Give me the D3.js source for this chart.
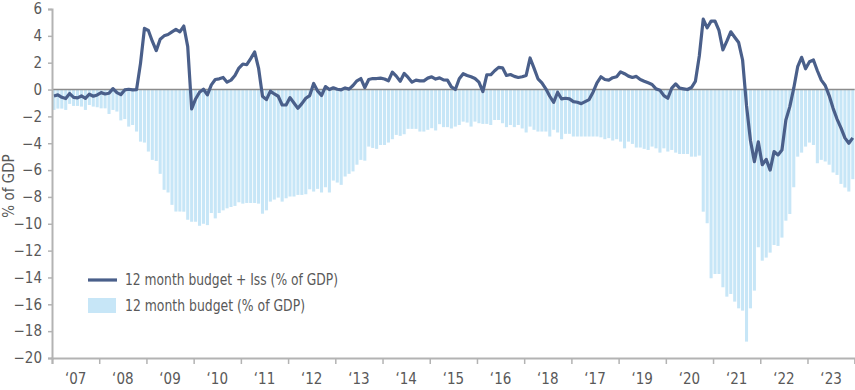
<!DOCTYPE html>
<html>
<head>
<meta charset="utf-8">
<script src="https://cdn.jsdelivr.net/npm/d3@7"></script>
<style>
  body { margin: 0; background: #fff; }
  text { font-family: 'Liberation Sans Narrow', 'DejaVu Sans Condensed', 'Roboto', sans-serif; fill: #595959; }
</style>
</head>
<body>
<div id="chart"></div>
<script>
const COLOR_BAR = '#c7e6f7';
const COLOR_LINE = '#4a5f8a';
const COLOR_AXIS = '#b3b3b3';

const yearLabels = ['‘07', '‘08', '‘09', '‘10', '‘11', '‘12', '‘13', '‘14', '‘15', '‘16', '‘18', '‘17', '‘19', '‘20', '‘21', '‘22', '‘23'];

const yTicks = [-20, -18, -16, -14, -12, -10, -8, -6, -4, -2, 0, 2, 4, 6];

// 12 month budget (% of GDP), monthly
const budget = [
	-1.52, -1.42, -1.42, -1.52, -1.07, -1.22, -1.22, -1.27, -1.52, -1.15, -1.27, -1.32,
	-1.4, -1.4, -1.82, -1.52, -1.64, -2.3, -2.2, -2.76, -2.64, -3.13, -3.88, -3.95,
	-4.62, -5.24, -5.32, -6.28, -7.47, -7.67, -8.59, -9.09, -9.09,
	-9.1, -9.7, -9.85, -9.85, -10.15, -10.0, -10.1, -9.2, -9.6, -9.2, -9.0, -8.85,
	-8.75, -8.67, -8.4, -8.5, -8.45, -8.45, -8.45, -8.5, -9.25, -9.0, -8.35, -8.2,
	-8.05, -8.35, -8.1, -7.97, -7.97, -7.85, -7.85, -7.8, -7.43, -7.6, -7.4,
	-7.67, -7.28, -7.67, -6.78, -6.93, -7.1, -6.48, -6.28, -6.1, -5.6, -5.24, -5.3,
	-4.25, -4.35, -4.42, -4.13, -4.13, -3.95, -3.7, -3.38, -3.45, -3.33, -2.93, -2.93,
	-2.93, -3.13, -3.13, -3.0, -2.88, -3.05, -2.58, -2.8, -2.8,
	-2.9, -2.76, -2.64, -2.39, -2.46, -2.76, -2.39, -2.51, -2.56, -2.56, -2.64, -2.27,
	-2.27, -2.51, -2.8, -2.64, -2.8, -2.64, -2.9, -3.2, -2.76, -3.0, -3.13, -3.13,
	-3.13, -3.5, -3.0, -3.2, -3.7, -3.3, -3.3, -3.5, -3.5, -3.5, -3.5,
	-3.5, -3.5, -3.5, -3.56, -3.7, -3.62, -3.8, -3.7, -3.88, -4.38, -3.88, -4.05,
	-4.32, -4.32, -4.42, -4.5, -4.25, -4.38, -4.7, -4.38, -4.62, -4.5, -4.7, -4.8,
	-4.8, -4.8, -5.0, -5.0, -4.92,
	-9.1, -9.96, -14.06, -13.74, -13.74, -14.73, -15.43, -15.23, -15.8, -16.3, -16.47, -18.78,
	-16.3, -14.98, -11.75, -12.75, -12.52, -12.15, -11.58, -11.65, -11.03, -9.77, -9.27,
	-7.28, -5.0, -4.7, -4.25, -3.95, -4.13, -5.49, -5.24, -5.36, -5.6, -6.18, -6.36,
	-7.03, -7.3, -7.6, -6.68
];

// 12 month budget + Iss (% of GDP), monthly
const budgetIss = [
	-0.48, -0.4, -0.58, -0.67, -0.3, -0.58, -0.62, -0.48, -0.65, -0.35, -0.5, -0.4,
	-0.23, -0.33, -0.28, 0.07, -0.23, -0.38, -0.03, 0.02, -0.03, 0.0, 1.95, 4.55,
	4.4, 3.6, 2.9, 3.75, 4.0, 4.1, 4.3, 4.48, 4.3, 4.73,
	3.2, -1.45, -0.7, -0.2, 0.02, -0.4, 0.35, 0.75, 0.8, 0.9, 0.55, 0.7,
	1.05, 1.6, 1.9, 1.85, 2.3, 2.8, 1.6, -0.5, -0.75, -0.12, -0.33, -0.5,
	-1.15, -1.15, -0.6, -1.0, -1.4, -1.05, -0.65, -0.45, 0.45, -0.1,
	-0.45, 0.22, 0.0, 0.13, 0.02, -0.02, 0.12, 0.03, 0.3, 0.65, 0.82, 0.15,
	0.75, 0.82, 0.82, 0.85, 0.78, 0.65, 1.3, 1.0, 0.62, 1.2, 0.9, 0.55,
	0.7, 0.65, 0.65, 0.85, 0.95, 0.78, 0.87, 0.72, 0.7, 0.2,
	0.0, 0.8, 1.18, 1.05, 0.95, 0.82, 0.55, -0.15, 1.1, 1.1, 1.4, 1.65,
	1.62, 1.05, 1.12, 0.98, 0.9, 0.95, 1.05, 2.35, 1.6, 0.8, 0.5, 0.05,
	-0.5, -0.95, -0.2, -0.7, -0.65, -0.7, -0.9, -0.95, -1.05, -0.9,
	-0.75, -0.2, 0.5, 0.95, 0.75, 0.7, 0.88, 0.95, 1.32, 1.18, 1.0, 0.9,
	0.98, 0.75, 0.62, 0.5, 0.38, 0.05, -0.05, -0.45, -0.65, 0.1, 0.42, 0.1,
	0.05, 0.0, 0.15, 0.6, 2.5, 5.25, 4.6, 5.1, 5.1, 4.4, 2.95, 3.6,
	4.3, 3.9, 3.5, 2.2, -1.2, -3.8, -5.37, -3.9, -5.6, -5.2, -6.0, -4.62,
	-4.87, -4.5, -2.27, -1.27, 0.1, 1.7, 2.4, 1.55, 2.07, 2.2, 1.4, 0.7,
	0.3, -0.45, -1.4, -2.2, -2.85, -3.6, -4.0, -3.6
];

const months = d3.timeMonths(new Date(2007, 0, 1), new Date(2024, 0, 1));

const W = 855;
const H = 390;
const m = { top: 9, right: 0.3, bottom: 32, left: 52 };

const svg = d3.select('#chart')
	.append('svg')
	.attr('width', W)
	.attr('height', H);

const x = d3.scaleBand()
	.domain(months)
	.range([m.left, W - m.right])
	.paddingInner(0.22)
	.paddingOuter(0.1);

const xYear = d3.scaleBand()
	.domain(yearLabels.map((d, i) => i))
	.range([m.left, W - m.right]);

const xEdge = d3.scaleLinear()
	.domain([0, yearLabels.length])
	.range([m.left, W - m.right]);

const y = d3.scaleLinear()
	.domain([-20, 6])
	.range([H - m.bottom, m.top]);

// bars
svg.append('g')
	.selectAll('rect')
	.data(budget)
	.join('rect')
	.attr('x', (d, i) => x(months[i]))
	.attr('y', y(0))
	.attr('width', x.bandwidth())
	.attr('height', (d) => y(d) - y(0))
	.attr('fill', COLOR_BAR);

// zero line
svg.append('line')
	.attr('x1', m.left)
	.attr('x2', W - m.right)
	.attr('y1', y(0))
	.attr('y2', y(0))
	.attr('stroke', '#8c8c8c')
	.attr('stroke-width', 1.5);

// line series
const line = d3.line()
	.x((d, i) => x(months[i]) + x.bandwidth() / 2)
	.y((d) => y(d));

svg.append('path')
	.datum(budgetIss)
	.attr('d', line)
	.attr('fill', 'none')
	.attr('stroke', COLOR_LINE)
	.attr('stroke-width', 3.2)
	.attr('stroke-linejoin', 'round');

// y axis
const yAxis = svg.append('g')
	.attr('transform', 'translate(' + m.left + ',0)')
	.call(d3.axisLeft(y).tickValues(yTicks).tickSize(4).tickPadding(6));
yAxis.select('.domain').attr('stroke', COLOR_AXIS).attr('stroke-width', 2);
yAxis.selectAll('.tick line').attr('stroke', COLOR_AXIS).attr('stroke-width', 1.5);
yAxis.selectAll('.tick text').style('font-size', '15px').attr('fill', '#595959');

// x axis: tick marks on year boundaries, labels centred in each year
const xAxis = svg.append('g')
	.attr('transform', 'translate(0,' + y(-20) + ')')
	.call(d3.axisBottom(xEdge).tickValues(d3.range(yearLabels.length + 1)).tickSize(6).tickFormat(''));
xAxis.select('.domain').attr('stroke', COLOR_AXIS).attr('stroke-width', 2);
xAxis.selectAll('.tick line').attr('stroke', COLOR_AXIS).attr('stroke-width', 1.5);

const xLabels = svg.append('g')
	.attr('transform', 'translate(0,' + y(-20) + ')')
	.call(d3.axisBottom(xYear).tickSize(0).tickPadding(15).tickFormat((d) => yearLabels[d]));
xLabels.select('.domain').remove();
xLabels.selectAll('.tick text').style('font-size', '15px').attr('fill', '#595959');

// y title
svg.append('text')
	.attr('transform', 'translate(14,186) rotate(-90)')
	.attr('text-anchor', 'middle')
	.style('font-size', '15px')
	.text('% of GDP');

// legend
const legend = svg.append('g').attr('transform', 'translate(88,280)');
legend.append('line')
	.attr('x1', 0).attr('x2', 29)
	.attr('y1', 0).attr('y2', 0)
	.attr('stroke', COLOR_LINE)
	.attr('stroke-width', 3.2);
legend.append('text')
	.attr('x', 37).attr('y', 0)
	.attr('dy', '0.35em')
	.attr('textLength', 213)
	.attr('lengthAdjust', 'spacingAndGlyphs')
	.style('font-size', '15px')
	.text('12 month budget + Iss (% of GDP)');
legend.append('rect')
	.attr('x', 0).attr('y', 18)
	.attr('width', 28).attr('height', 15)
	.attr('fill', COLOR_BAR);
legend.append('text')
	.attr('x', 37).attr('y', 25.5)
	.attr('dy', '0.35em')
	.attr('textLength', 180)
	.attr('lengthAdjust', 'spacingAndGlyphs')
	.style('font-size', '15px')
	.text('12 month budget (% of GDP)');
</script>
</body>
</html>
